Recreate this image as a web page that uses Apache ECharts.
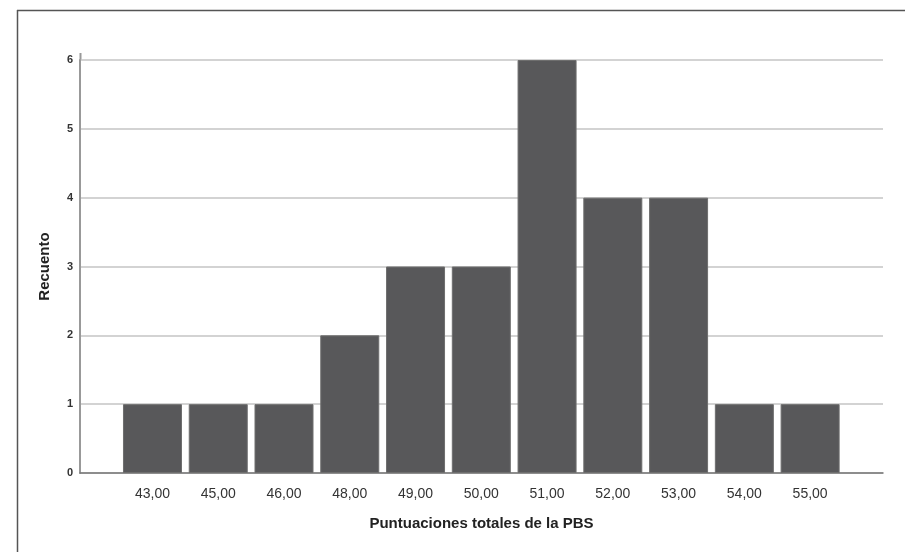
<!DOCTYPE html>
<html>
<head>
<meta charset="utf-8">
<script src="https://cdn.jsdelivr.net/npm/echarts@6/dist/echarts.min.js"></script>
<style>
html,body{margin:0;padding:0;background:#fff;}
#c{width:905px;height:552px;}
</style>
</head>
<body>
<div id="c"></div>
<script>
const categories = ['43,00','45,00','46,00','48,00','49,00','50,00','51,00','52,00','53,00','54,00','55,00'];
const counts = [1, 1, 1, 2, 3, 3, 6, 4, 4, 1, 1];
const yTicks = [0, 1, 2, 3, 4, 5, 6];

const chart = echarts.init(document.getElementById('c'), null, {renderer: 'canvas'});
const font = '"Liberation Sans", Arial, sans-serif';
chart.setOption({
  animation: false,
  backgroundColor: '#fff',
  graphic: [
    {type: 'line', shape: {x1: 17, y1: 10.5, x2: 905, y2: 10.5}, style: {stroke: '#555', lineWidth: 1.5}},
    {type: 'line', shape: {x1: 17.5, y1: 10, x2: 17.5, y2: 552}, style: {stroke: '#555', lineWidth: 1.5}},
    {type: 'line', shape: {x1: 80.5, y1: 53, x2: 80.5, y2: 60}, style: {stroke: '#999', lineWidth: 2}}
  ],
  grid: [
    {left: 80, right: 22, top: 60, bottom: 79},
    {left: 119.6, right: 62, top: 60, bottom: 79}
  ],
  xAxis: [
    {gridIndex: 0, type: 'value', min: 0, max: 1, show: true,
     axisLine: {show: true, lineStyle: {color: '#777', width: 1.5}},
     axisTick: {show: false}, axisLabel: {show: false}, splitLine: {show: false},
     name: 'Puntuaciones totales de la PBS', nameLocation: 'middle', nameGap: 43,
     nameTextStyle: {fontFamily: font, fontSize: 15, fontWeight: 'bold', color: '#222'}
    },
    {gridIndex: 1, type: 'category', data: categories,
     axisLine: {show: false}, axisTick: {show: false},
     axisLabel: {fontFamily: font, fontSize: 14, color: '#333', margin: 14}
    }
  ],
  yAxis: [
    {gridIndex: 0, type: 'value', min: yTicks[0], max: yTicks[yTicks.length-1], interval: 1,
     axisLine: {show: true, lineStyle: {color: '#999', width: 2}},
     axisTick: {show: false},
     axisLabel: {fontFamily: font, fontSize: 11, fontWeight: 'bold', color: '#333', margin: 7},
     splitLine: {show: true, lineStyle: {color: '#c4c4c4', width: 1.5}},
     name: 'Recuento', nameLocation: 'middle', nameGap: 28, nameRotate: 90,
     nameTextStyle: {fontFamily: font, fontSize: 15, fontWeight: 'bold', color: '#222'}
    },
    {gridIndex: 1, type: 'value', min: yTicks[0], max: yTicks[yTicks.length-1], interval: 1, show: false,
     splitLine: {show: false}}
  ],
  series: [{
    type: 'bar', xAxisIndex: 1, yAxisIndex: 1, data: counts,
    barWidth: 59,
    itemStyle: {color: '#58585a', borderColor: '#6e6e6e', borderWidth: 1},
    z: 3
  }]
});
</script>
</body>
</html>
